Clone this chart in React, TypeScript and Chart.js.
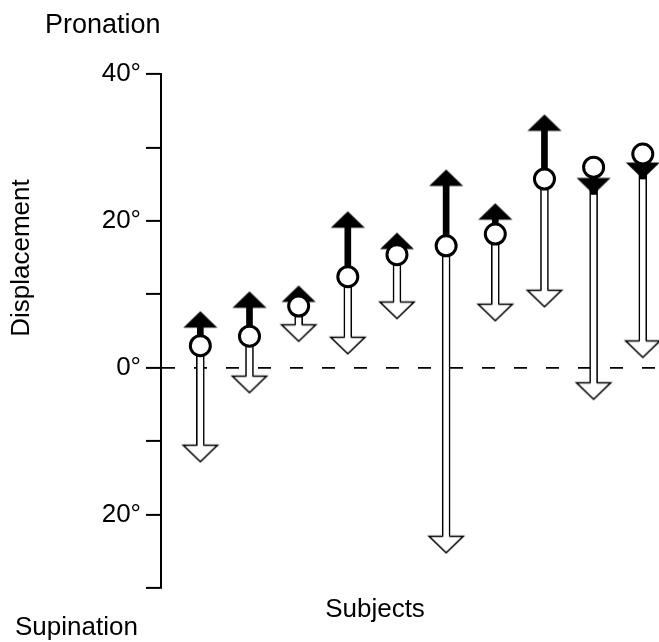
import React, { useEffect, useRef } from 'react';
import { Chart, registerables } from 'chart.js';

Chart.register(...registerables);

// ---------- data ----------
const subjects = [1, 2, 3, 4, 5, 6, 7, 8, 9, 10];
// starting position (open circles), degrees
const startValues = [3.0, 4.3, 8.4, 12.4, 15.4, 16.6, 18.2, 25.7, 27.3, 29.1];
// end of the solid (black) arrows
const solidArrowEnds = [7.7, 10.4, 11.2, 21.3, 18.4, 27.0, 22.4, 34.5, 23.6, 25.7];
// end of the open (white) arrows
const openArrowEnds = [-12.8, -3.4, 3.6, 1.9, 6.7, -25.2, 6.4, 8.3, -4.3, 1.4];

const yTickValues = [-30, -20, -10, 0, 10, 20, 30, 40];
const yTickLabels = ['', '20°', '', '0°', '', '20°', '', '40°'];

const yAxisTitle = 'Displacement';
const xAxisTitle = 'Subjects';
const topLabel = 'Pronation';
const bottomLabel = 'Supination';

const FONT = '"Liberation Sans", Arial, Helvetica, sans-serif';

// ---------- arrow head images (tip at image centre) ----------
function makeHead(kind: 'solidUp' | 'solidDown' | 'openDown'): HTMLCanvasElement {
  const s = 40;
  const c = 20;
  const half = 17;
  const h = 16.5;
  const cv = document.createElement('canvas');
  cv.width = s;
  cv.height = s;
  const g = cv.getContext('2d') as CanvasRenderingContext2D;
  if (kind === 'solidUp') {
    g.fillStyle = '#ffffff';
    g.fillRect(c - 5, c - 1, 10, 6);
    g.fillStyle = '#000000';
    g.beginPath();
    g.moveTo(c, c);
    g.lineTo(c + half, c + h);
    g.lineTo(c - half, c + h);
    g.closePath();
    g.fill();
  } else if (kind === 'solidDown') {
    g.fillStyle = '#000000';
    g.beginPath();
    g.moveTo(c, c);
    g.lineTo(c + half, c - h);
    g.lineTo(c - half, c - h);
    g.closePath();
    g.fill();
  } else {
    g.fillStyle = '#ffffff';
    g.fillRect(c - 6, c - 6, 12, 7);
    g.beginPath();
    g.moveTo(c, c);
    g.lineTo(c + half, c - h);
    g.lineTo(c - half, c - h);
    g.closePath();
    g.fill();
    g.strokeStyle = '#000000';
    g.lineWidth = 1.6;
    g.lineJoin = 'miter';
    g.beginPath();
    g.moveTo(c - 3.2, c - h);
    g.lineTo(c - half, c - h);
    g.lineTo(c, c);
    g.lineTo(c + half, c - h);
    g.lineTo(c + 3.2, c - h);
    g.stroke();
  }
  return cv;
}

const freeLabels = {
  id: 'freeLabels',
  afterDraw(chart: any) {
    const { ctx } = chart;
    ctx.save();
    ctx.fillStyle = '#000';
    ctx.font = `27px ${FONT}`;
    ctx.textBaseline = 'alphabetic';
    ctx.textAlign = 'left';
    ctx.fillText(topLabel, 45, 33);
    ctx.font = `26px ${FONT}`;
    ctx.fillText(bottomLabel, 15, 635);
    ctx.textAlign = 'center';
    ctx.fillText(xAxisTitle, 375, 617);
    ctx.translate(29, 258);
    ctx.rotate(-Math.PI / 2);
    ctx.fillText(yAxisTitle, 0, 0);
    ctx.restore();
  },
};

export default function App() {
  const ref = useRef<HTMLCanvasElement | null>(null);

  useEffect(() => {
    if (!ref.current) return;
    const solidUp = makeHead('solidUp');
    const solidDown = makeHead('solidDown');
    const openDown = makeHead('openDown');

    const chart = new Chart(ref.current, {
      type: 'scatter',
      data: {
        datasets: [
          {
            type: 'scatter',
            label: 'start',
            data: subjects.map((s, i) => ({ x: s, y: startValues[i] })),
            pointStyle: 'circle',
            pointRadius: 10,
            pointHoverRadius: 10,
            pointBackgroundColor: '#ffffff',
            pointBorderColor: '#000000',
            pointBorderWidth: 3,
            pointHoverBorderWidth: 3,
            order: 0,
            clip: false,
          } as any,
          {
            type: 'scatter',
            label: 'solid heads',
            data: subjects.map((s, i) => ({ x: s, y: solidArrowEnds[i] })),
            pointStyle: (c: any) => {
              const i = c.dataIndex;
              if (i == null) return solidUp;
              return solidArrowEnds[i] >= startValues[i] ? solidUp : solidDown;
            },
            pointRadius: 10,
            pointHoverRadius: 10,
            order: 1,
            clip: false,
          } as any,
          {
            type: 'scatter',
            label: 'open heads',
            data: subjects.map((s, i) => ({ x: s, y: openArrowEnds[i] })),
            pointStyle: openDown,
            pointRadius: 10,
            pointHoverRadius: 10,
            order: 2,
            clip: false,
          } as any,
          {
            type: 'bar',
            label: 'solid shafts',
            data: subjects.map((s, i) => ({ x: s, y: [startValues[i], solidArrowEnds[i]] })),
            backgroundColor: '#000000',
            borderWidth: 0,
            barThickness: 6,
            grouped: false,
            borderSkipped: false,
            order: 3,
            clip: false,
          } as any,
          {
            type: 'bar',
            label: 'open shafts',
            data: subjects.map((s, i) => ({ x: s, y: [startValues[i], openArrowEnds[i]] })),
            backgroundColor: '#ffffff',
            borderColor: '#000000',
            borderWidth: 1.6,
            barThickness: 8,
            grouped: false,
            borderSkipped: false,
            order: 4,
            clip: false,
          } as any,
        ],
      },
      options: {
        responsive: false,
        animation: false,
        events: [],
        layout: { autoPadding: false, padding: { top: 74, bottom: 54, left: 0, right: 0 } },
        plugins: {
          legend: { display: false },
          tooltip: { enabled: false },
          title: { display: false },
        },
        scales: {
          x: {
            type: 'linear',
            min: 0.2,
            max: 10.33,
            offset: false,
            grid: { offset: false },
            display: false,
          },
          y: {
            type: 'linear',
            position: 'left',
            min: -30,
            max: 40,
            afterFit: (s: any) => {
              s.width = 161;
            },
            ticks: {
              stepSize: 10,
              autoSkip: false,
              padding: 5,
              color: '#000',
              font: { family: FONT, size: 26 },
              callback: (v: any) => {
                const k = yTickValues.indexOf(Number(v));
                return k >= 0 ? yTickLabels[k] : '';
              },
            },
            grid: {
              drawOnChartArea: true,
              drawTicks: true,
              color: (c: any) => (c.tick && c.tick.value === 0 ? '#000000' : 'rgba(0,0,0,0)'),
              lineWidth: 1.8,
              tickLength: 15,
              tickColor: '#000000',
              tickWidth: 2,
              tickBorderDash: [],
            },
            border: { display: true, color: '#000000', width: 2, dash: [13, 19] },
          },
        },
      } as any,
      plugins: [freeLabels],
    });
    return () => chart.destroy();
  }, []);

  return (
    <div style={{ position: 'absolute', left: 0, top: 0, width: 659, height: 642, background: '#fff' }}>
      <canvas ref={ref} width={659} height={642} style={{ display: 'block' }} />
    </div>
  );
}
